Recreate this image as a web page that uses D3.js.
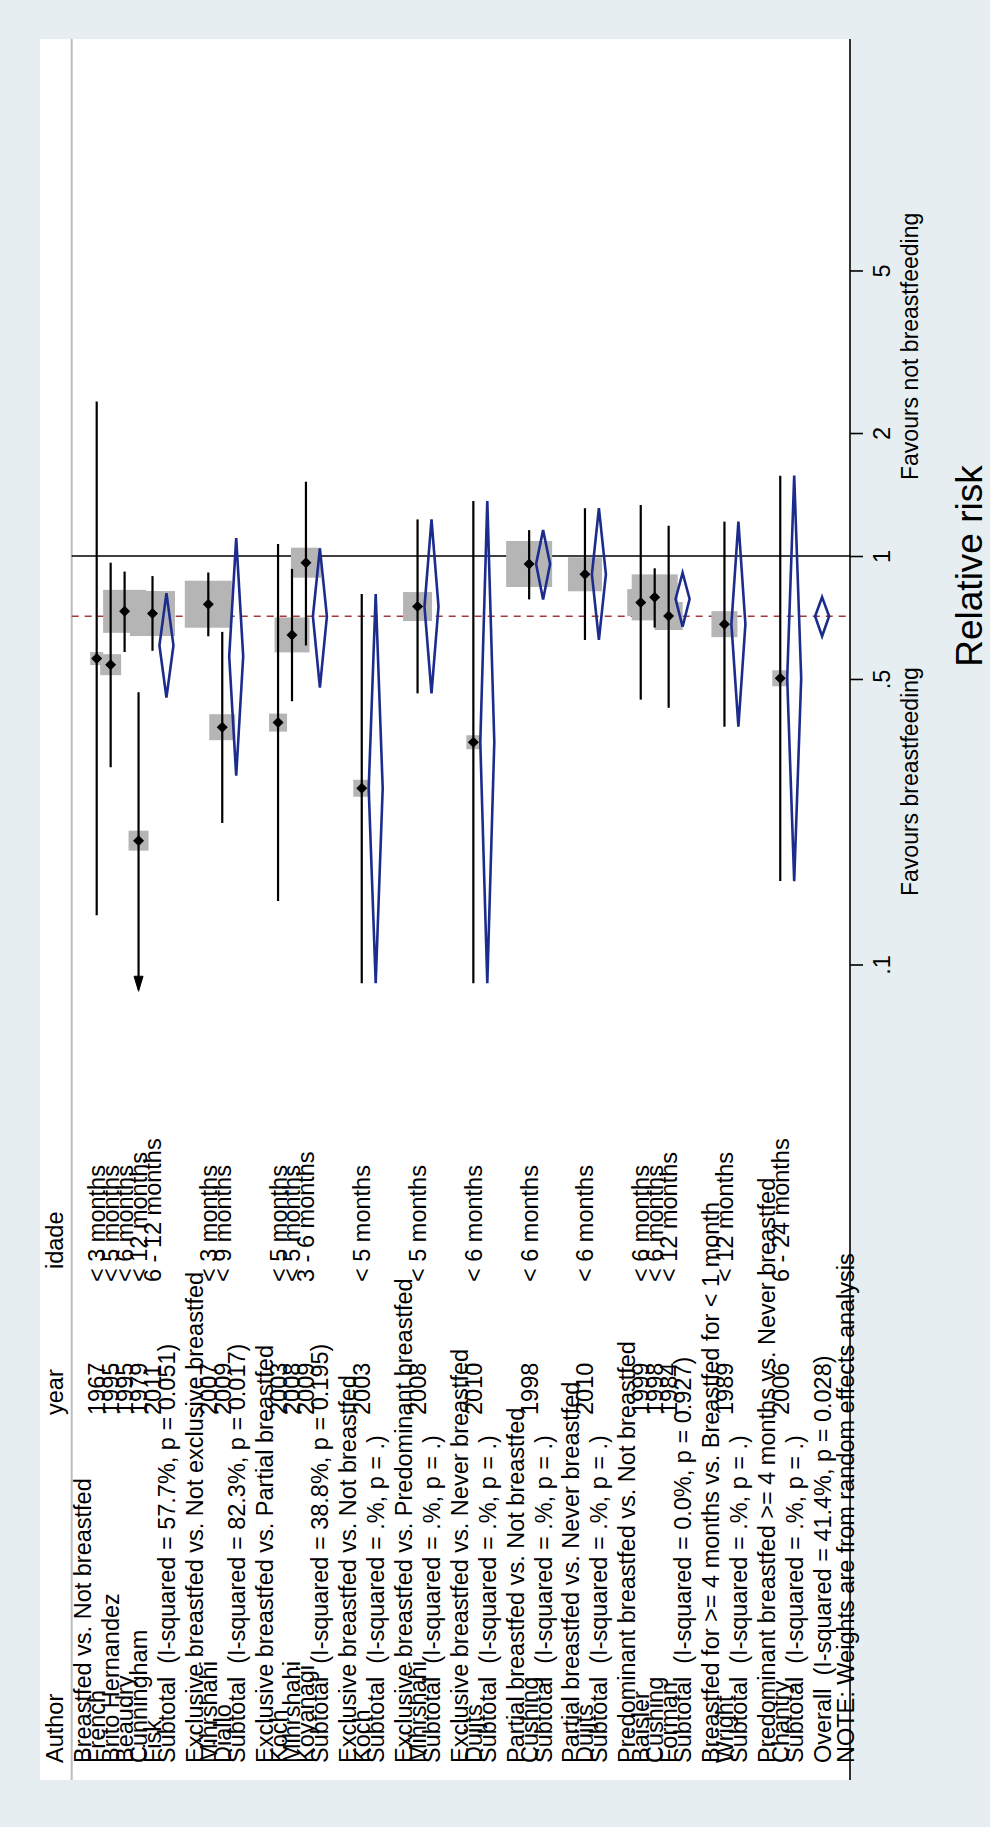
<!DOCTYPE html>
<html>
<head>
<meta charset="utf-8">
<script src="https://cdnjs.cloudflare.com/ajax/libs/d3/7.8.5/d3.min.js"></script>
<style>
  html, body { margin: 0; padding: 0; background: #e7eef1; }
  svg { display: block; }
  text { font-family: "Liberation Sans", Arial, Helvetica, sans-serif; white-space: pre; fill: #000; }
</style>
</head>
<body>
<svg id="chart" width="990" height="1827"></svg>
<script>
// ---------------- DATA ----------------
const groupTitles = [
  "Breastfed vs. Not breastfed",
  "Exclusive breastfed vs. Not exclusive breastfed",
  "Exclusive breastfed vs. Partial breastfed",
  "Exclusive breastfed vs. Not breastfed",
  "Exclusive breastfed vs. Predominant breastfed",
  "Exclusive breastfed vs. Never breastfed",
  "Partial breastfed vs. Not breastfed",
  "Partial breastfed vs. Never breastfed",
  "Predominant breastfed vs. Not breastfed",
  "Breastfed for >= 4 months vs. Breastfed for < 1 month",
  "Predominant breastfed >= 4 months vs. Never breastfed"
];
const studyGroup  = [0,0,0,0,0, 1,1, 2,2,2, 3, 4, 5, 6, 7, 8,8,8, 9, 10];
const studyAuthor = ["French","Brito Hernandez","Beaudry","Cunningham","Fisk",
                     "Mihrshahi","Diallo",
                     "Koch","Mihrshahi","Koyanagi",
                     "Koch","Mihrshahi","Duijts","Cushing","Duijts",
                     "Baisler","Cushing","Forman","Wright","Chantry"];
const studyYear   = ["1967","1995","1995","1979","2011",
                     "2007","2009",
                     "2003","2008","2009",
                     "2003","2008","2010","1998","2010",
                     "1999","1998","1984","1989","2006"];
const studyAge    = ["< 3 months","< 5 months","< 6 months","< 12 months","6 - 12 months",
                     "< 3 months","< 9 months",
                     "< 5 months","< 5 months","3 - 6 months",
                     "< 5 months","< 5 months","< 6 months","< 6 months","< 6 months",
                     "< 6 months","< 6 months","< 12 months","< 12 months","6 - 24 months"];
const studyRR     = [0.561,0.542,0.732,0.201,0.723, 0.762,0.381, 0.391,0.641,0.963,
                     0.270,0.752,0.350,0.956,0.902, 0.769,0.792,0.713, 0.681, 0.502];
const studyLo     = [0.132,0.304,0.582,0.070,0.586, 0.636,0.222, 0.143,0.441,0.604,
                     0.090,0.461,0.090,0.783,0.623, 0.445,0.668,0.425, 0.382, 0.160];
const studyHi     = [2.390,0.963,0.916,0.464,0.893, 0.911,0.652, 1.070,0.930,1.520,
                     0.807,1.229,1.363,1.157,1.309, 1.333,0.933,1.186, 1.214, 1.573];
const studyWeight = [0.87,2.28,9.54,2.06,10.45, 11.40,3.49, 1.67,6.32,4.64,
                     1.49,4.34,1.01,10.92,5.97, 3.76,10.92,4.05, 3.49, 1.32];

const subtotalLabel = [
  "Subtotal  (I-squared = 57.7%, p = 0.051)",
  "Subtotal  (I-squared = 82.3%, p = 0.017)",
  "Subtotal  (I-squared = 38.8%, p = 0.195)",
  "Subtotal  (I-squared = .%, p = .)",
  "Subtotal  (I-squared = .%, p = .)",
  "Subtotal  (I-squared = .%, p = .)",
  "Subtotal  (I-squared = .%, p = .)",
  "Subtotal  (I-squared = .%, p = .)",
  "Subtotal  (I-squared = 0.0%, p = 0.927)",
  "Subtotal  (I-squared = .%, p = .)",
  "Subtotal  (I-squared = .%, p = .)"
];
const subRR = [0.604,0.568,0.712,0.270,0.752,0.350,0.956,0.902,0.785,0.681,0.502];
const subLo = [0.450,0.290,0.476,0.090,0.461,0.090,0.783,0.623,0.671,0.382,0.160];
const subHi = [0.811,1.106,1.044,0.807,1.229,1.363,1.157,1.309,0.910,1.214,1.573];

const overallLabel = "Overall  (I-squared = 41.4%, p = 0.028)";
const overallRR = 0.712, overallLo = 0.636, overallHi = 0.793;
const noteLabel = "NOTE: Weights are from random effects analysis";

const columnHeaders = ["Author", "year", "idade"];
const tickValues = [0.1, 0.5, 1, 2, 5];
const tickLabels = [".1", ".5", "1", "2", "5"];
const axisTitle = "Relative risk";
const favoursLow = "Favours breastfeeding";
const favoursHigh = "Favours not breastfeeding";
const axisMin = 0.086;

// ---------------- LAYOUT ----------------
const W = 990, H = 1827;
const plotLeft = 40, plotRight = 850, plotTop = 39, plotBottom = 1780;
const headerLineX = 71.7;
const FS = 23.5;
const colAuthor = 1763, colYear = 1415, colAgeHead = 1269, colAge = 1282;
const boxColor = "#b5b5b5", diamondColor = "#1c2c8c", ovColor = "#a33a3a";

const svg = d3.select("#chart");

// row positions (image x) and log RR scale (image y)
const rowX = d3.scaleLinear().domain([0, 1]).range([82.75, 96.7]);
const yS = d3.scaleLog().domain([0.1, 1]).range([964.5, 556]);
const boxSide = d3.scaleSqrt().domain([0, 100]).range([0, 139.2]);

// build row list
const textRows = [];
const studies = [];
const subs = [];
let r = 0;
groupTitles.forEach((g, gi) => {
  textRows.push({row: r, col: colAuthor, text: g});
  r++;
  studyGroup.forEach((sg, si) => {
    if (sg !== gi) return;
    textRows.push({row: r, col: colAuthor, text: studyAuthor[si]});
    textRows.push({row: r, col: colYear, text: studyYear[si]});
    textRows.push({row: r, col: colAge, text: studyAge[si]});
    studies.push({row: r, rr: studyRR[si], lo: studyLo[si], hi: studyHi[si], w: studyWeight[si]});
    r++;
  });
  textRows.push({row: r, col: colAuthor, text: subtotalLabel[gi]});
  subs.push({row: r, rr: subRR[gi], lo: subLo[gi], hi: subHi[gi]});
  r++;
  r++; // blank
});
const overallRow = r;
textRows.push({row: overallRow, col: colAuthor, text: overallLabel});
subs.push({row: overallRow, rr: overallRR, lo: overallLo, hi: overallHi});
textRows.push({row: overallRow + 1.65, col: colAuthor, text: noteLabel});
textRows.push({row: -2, col: colAuthor, text: columnHeaders[0]});
textRows.push({row: -2, col: colYear, text: columnHeaders[1]});
textRows.push({row: -2, col: colAgeHead, text: columnHeaders[2]});

// ---------------- DRAW ----------------
svg.append("rect").attr("x", 0).attr("y", 0).attr("width", W).attr("height", H).attr("fill", "#e7eef1");
svg.append("rect").attr("x", plotLeft).attr("y", plotTop)
   .attr("width", plotRight - plotLeft).attr("height", plotBottom - plotTop).attr("fill", "#ffffff");

svg.append("line").attr("x1", headerLineX).attr("x2", headerLineX)
   .attr("y1", plotTop).attr("y2", plotBottom)
   .attr("stroke", "#bdbdbd").attr("stroke-width", 2);

svg.append("line").attr("x1", headerLineX).attr("x2", plotRight)
   .attr("y1", yS(1)).attr("y2", yS(1)).attr("stroke", "#000").attr("stroke-width", 1.6);
svg.append("line").attr("x1", headerLineX).attr("x2", plotRight)
   .attr("y1", yS(overallRR)).attr("y2", yS(overallRR))
   .attr("stroke", ovColor).attr("stroke-width", 1.4).attr("stroke-dasharray", "7,6");

// boxes
svg.append("g").selectAll("rect").data(studies).join("rect")
  .attr("x", d => rowX(d.row) - boxSide(d.w) / 2)
  .attr("y", d => yS(d.rr) - boxSide(d.w) / 2)
  .attr("width", d => boxSide(d.w))
  .attr("height", d => boxSide(d.w))
  .attr("fill", boxColor);

// CI lines
const ciG = svg.append("g");
ciG.selectAll("line").data(studies).join("line")
  .attr("x1", d => rowX(d.row)).attr("x2", d => rowX(d.row))
  .attr("y1", d => yS(d.hi))
  .attr("y2", d => d.lo < axisMin ? yS(axisMin) - 12 : yS(d.lo))
  .attr("stroke", "#000").attr("stroke-width", 2.2);
ciG.selectAll("path").data(studies.filter(d => d.lo < axisMin)).join("path")
  .attr("d", d => {
    const x = rowX(d.row), t = yS(axisMin);
    return `M${x - 4.5},${t - 15} L${x + 4.5},${t - 15} L${x},${t} Z`;
  })
  .attr("fill", "#000").attr("stroke", "#000").attr("stroke-width", 1);

// point markers
svg.append("g").selectAll("path").data(studies).join("path")
  .attr("d", d => {
    const x = rowX(d.row), y = yS(d.rr);
    return `M${x},${y - 5.5} L${x + 5.5},${y} L${x},${y + 5.5} L${x - 5.5},${y} Z`;
  })
  .attr("fill", "#000");

// diamonds
svg.append("g").selectAll("path").data(subs).join("path")
  .attr("d", d => {
    const x = rowX(d.row), hw = 7;
    return `M${x},${yS(d.hi)} L${x + hw},${yS(d.rr)} L${x},${yS(d.lo)} L${x - hw},${yS(d.rr)} Z`;
  })
  .attr("fill", "none").attr("stroke", diamondColor).attr("stroke-width", 2.6)
  .attr("stroke-linejoin", "miter");

// texts (rotated -90)
svg.append("g").selectAll("text").data(textRows).join("text")
  .attr("transform", d => `translate(${rowX(d.row)},${d.col}) rotate(-90)`)
  .attr("dy", "0.36em")
  .attr("font-size", FS)
  .attr("text-anchor", "start")
  .text(d => d.text);

// axis
svg.append("line").attr("x1", plotRight).attr("x2", plotRight)
   .attr("y1", plotTop).attr("y2", plotBottom).attr("stroke", "#000").attr("stroke-width", 1.6);
const axis = d3.axisRight(yS).tickValues(tickValues)
  .tickFormat((d, i) => tickLabels[i]).tickSize(13).tickPadding(0);
const ag = svg.append("g").attr("transform", `translate(${plotRight},0)`).call(axis);
ag.select(".domain").remove();
ag.selectAll(".tick line").attr("stroke", "#000").attr("stroke-width", 1.6);
ag.selectAll(".tick text")
  .attr("x", null).attr("dy", null)
  .attr("transform", "translate(40,0) rotate(-90)")
  .attr("text-anchor", "middle")
  .attr("font-size", FS)
  .attr("font-family", "Liberation Sans, Arial, sans-serif")
  .attr("fill", "#000");

svg.append("text").attr("transform", `translate(918,896) rotate(-90)`)
  .attr("font-size", 23).attr("text-anchor", "start").text(favoursLow);
svg.append("text").attr("transform", `translate(918,480) rotate(-90)`)
  .attr("font-size", 23).attr("text-anchor", "start").text(favoursHigh);
svg.append("text").attr("transform", `translate(982,566) rotate(-90)`)
  .attr("font-size", 37).attr("text-anchor", "middle").text(axisTitle);
</script>
</body>
</html>
